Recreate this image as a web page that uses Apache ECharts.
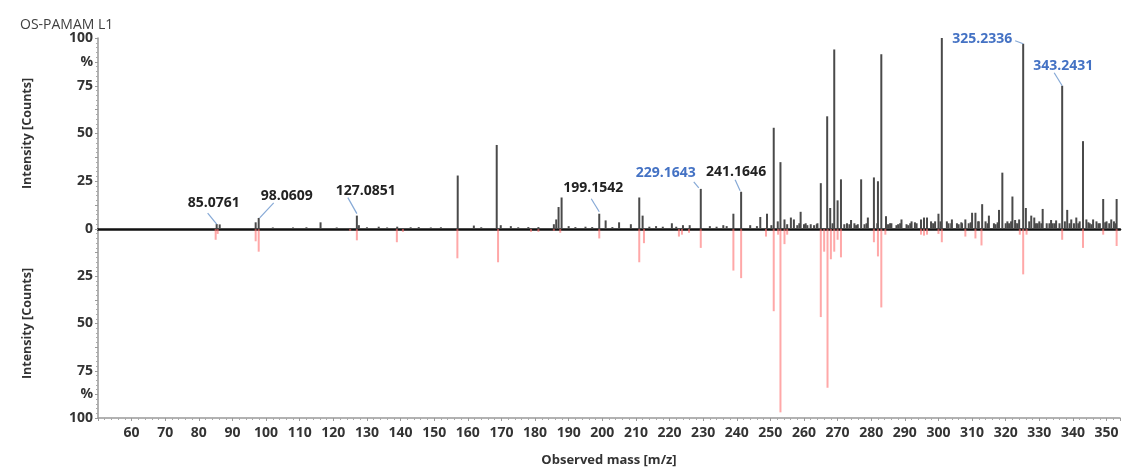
<!DOCTYPE html>
<html>
<head>
<meta charset="utf-8">
<script src="https://cdn.jsdelivr.net/npm/echarts@6/dist/echarts.min.js"></script>
<style>html,body{margin:0;padding:0;background:#fff;}#c{width:1124px;height:468px;}</style>
</head>
<body>
<div id="c"></div>
<script>
// ---- data ----
var sampleMz = [85.3,86.2,96.9,97.8,102,108,112,116.2,121,127.0,127.6,130,133.5,136,139,143,145.4,149,152,157.0,161.8,164,168.6,169.8,172.8,175,178,181,185.6,186.3,187.0,187.9,190,192,195,197,199.1,201.0,203,205.0,208.5,211.0,212.0,214,216,218,220.7,222,224,226,229.3,232,234,236,237,239.0,241.3,244,246,247.0,249.0,251.0,252.2,253.0,254.2,255,256.1,257.0,258,259.0,260,261,262,263,264,265.0,266.9,267.8,268.5,269.0,270.0,271.0,272.8,273.5,274.0,275.5,276,277.0,278,279.0,280.8,282.0,283.0,284.4,285,286.0,287.5,288,289.0,290.5,291,292.0,293.5,294.8,295.7,296.6,297.8,298.5,299.0,300.0,301.0,302.5,303,304.0,305.5,306,307,308.0,309,310.0,311.0,312,313.0,314,315.0,316.5,317,318.0,319.0,320.5,321,322.0,322.8,323.5,324,325.2,326.0,327.6,328.5,329.5,330,331.0,332.2,333.5,334,335.0,336.8,338.3,339.5,340.3,341.0,342,343.0,344.0,345,345.5,346.0,347.0,348,349.0,350,350.8,351.4,352.2,353.0,
  250.3,258.6,260.5,263.8,272,275,278.6,281.8,285.6,288.6,291.6,293,298,300.6,303.8,306.8,309.6,311.8,314.6,317.6,320,321.6,323,327,329,330.6,333,334.6,336,337.6,339,341.6,344.6,347.6,349.6,352.8];
var sampleInt = [2.6,2.4,3.5,5.8,0.8,0.8,0.9,3.5,0.8,7,2,0.9,1.2,0.8,1.2,0.9,1,0.8,0.9,28,1.8,0.9,44,2,1.5,0.9,1,1,2.5,5,11.5,16.5,1.5,1,1.2,1,8,4.5,1,3.5,2.5,16.5,7,1.2,1.5,1.2,3,1.2,2,2,21,1.5,1.2,2,1.5,8,19.5,2,1.5,6.3,8,53,4,35,5,2.5,6,5,2,9,2.5,2,2.5,2,3,24,59,11,3,94,15,26,3,2.5,4.7,2,2.5,26,2.5,6,27,25,91.5,6.7,2.5,3,2,2.5,5,2.5,2,4,3,5,6,6,4,3,4,8,100,4,3,5,3,2.5,3,5,3,8.5,8.5,4,13,4,7,3,2.5,10,29.5,4,3,17,4.7,3,5,97,11,7,6,3,4,10.5,3,4.7,3,4.5,75,10,5,3,6,4,46,5,3,2.5,5,4,3,15.7,4,3,5,4,15.7,
  2,3,3,2.5,2.5,3,3,3,3,3,3,3.5,3,4,3,3.5,3.5,4,3,3.5,3,4,3,4,3,3,3,3,3,4,3,3,3.5,3,3.5,3];
var refMz = [85.0,85.6,96.9,97.8,125,127,138.9,140.7,156.9,169,178.8,181,185.6,187.5,199.1,211.0,212.4,222.8,223.7,225.8,229.3,239.0,241.3,248.7,251.0,252.3,253.0,254.2,255,265.0,266.0,267.0,268.0,269.0,270.0,271.0,280.8,282.0,283.0,284.2,294.8,295.7,296.6,300.0,301.0,308.0,311.0,312.8,324.2,325.2,326.2,336.8,343.0,349.0,353.0];
var refInt = [5.7,2.6,6.5,12,1,6,7,1.5,15.5,17.6,1.5,1.5,1,2,5,17.6,7.5,4,3,2,10,22,26,4,43.5,3,97,8,3,46.6,12,84,16,12,5.7,15,7,14.5,41.5,3,3,3.5,3,2.6,7,4,5,8.7,3,24,3,5.7,10,3,9];
var annMz = [85.3,97.8,127.0,199.1,229.3,241.3,325.2,336.8];
var annInt = [2.6,5.8,7,8,21,19.5,97,75];
var annText = ['85.0761','98.0609','127.0851','199.1542','229.1643','241.1646','325.2336','343.2431'];
var annBlue = [false,false,false,false,true,false,true,true];
var xTicks = [60,70,80,90,100,110,120,130,140,150,160,170,180,190,200,210,220,230,240,250,260,270,280,290,300,310,320,330,340,350];
var yTicks = [0,25,50,75,100];
var titleText = 'OS-PAMAM L1';
var yName = 'Intensity [Counts]';
var xName = 'Observed mass [m/z]';

// ---- layout/style (not data) ----
var annOffset = [ // [labelDx, labelDy, lineX1, lineY1, lineX2, lineY2]
  [-3,-21,-9,-11,0,0],
  [28,-22,15,-15,1,0],
  [9,-25,-9,-18,0,-2],
  [-6,-26,-8,-15,0,-2],
  [-35,-16,-7,-7,-2,-1],
  [-5,-20,-6,-12,-1,-1],
  [-41,-5,-8,-3,0,0],
  [1,-20,-8,-13,0,0]
];
var FONT = 'Open Sans';

function pairs(a, b) { return a.map(function (v, i) { return [v, b[i]]; }); }
var annData = annMz.map(function (v, i) { return [v, annInt[i], i]; });

function yLabel(hideZero) {
  return function (v) {
    if (v === 87.5) return '%';
    if (hideZero && v === 0) return '';
    return yTicks.indexOf(v) >= 0 ? String(v) : '';
  };
}

var chart = echarts.init(document.getElementById('c'), null, {renderer: 'canvas'});
var labelStyle = {color: '#333', fontWeight: 'bold', fontSize: 14, fontFamily: FONT};
var nameStyle = {color: '#333', fontWeight: 'bold', fontSize: 12.5, fontFamily: FONT};

chart.setOption({
  animation: false,
  backgroundColor: '#fff',
  title: {text: titleText, left: 15, top: 13, textStyle: {fontSize: 14, fontWeight: 'normal', color: '#404040', fontFamily: FONT}},
  grid: [
    {left: 98, right: 4, top: 38, height: 191},
    {left: 98, right: 4, top: 229, height: 193}
  ],
  xAxis: [
    {type: 'value', gridIndex: 0, min: 50, max: 354, interval: 10,
     axisLine: {show: true, lineStyle: {color: '#111', width: 2.5}},
     axisTick: {show: false}, axisLabel: {show: false}, splitLine: {show: false}},
    {type: 'value', gridIndex: 1, min: 50, max: 354, interval: 10, position: 'bottom',
     name: xName, nameLocation: 'middle', nameGap: 36, nameTextStyle: Object.assign({}, nameStyle, {fontSize: 13}),
     axisLine: {show: true, onZero: false, lineStyle: {color: '#999', width: 1.5}},
     axisTick: {show: true, length: 3, lineStyle: {color: '#999'}},
     minorTick: {show: true, splitNumber: 5, length: 2, lineStyle: {color: '#aaa'}},
     axisLabel: Object.assign({}, labelStyle, {margin: 8, formatter: function (v) { return xTicks.indexOf(v) >= 0 ? String(v) : ''; }}),
     splitLine: {show: false}}
  ],
  yAxis: [
    {type: 'value', gridIndex: 0, min: 0, max: 100, interval: 12.5,
     name: yName, nameLocation: 'middle', nameGap: 64, nameRotate: 90, nameTextStyle: nameStyle,
     axisLine: {show: true, lineStyle: {color: '#999', width: 1.5}},
     axisTick: {show: true, length: 3, lineStyle: {color: '#999'}},
     minorTick: {show: true, splitNumber: 5, length: 2, lineStyle: {color: '#aaa'}},
     axisLabel: Object.assign({}, labelStyle, {margin: 5, formatter: yLabel(false)}),
     splitLine: {show: false}},
    {type: 'value', gridIndex: 1, min: 0, max: 100, interval: 12.5, inverse: true,
     name: yName, nameLocation: 'middle', nameGap: 64, nameRotate: 90, nameTextStyle: nameStyle,
     axisLine: {show: true, lineStyle: {color: '#999', width: 1.5}},
     axisTick: {show: true, length: 3, lineStyle: {color: '#999'}},
     minorTick: {show: true, splitNumber: 5, length: 2, lineStyle: {color: '#aaa'}},
     axisLabel: Object.assign({}, labelStyle, {margin: 5, formatter: yLabel(true)}),
     splitLine: {show: false}}
  ],
  series: [
    {type: 'bar', xAxisIndex: 1, yAxisIndex: 1, data: pairs(refMz, refInt), barWidth: 2,
     itemStyle: {color: 'rgba(255,110,110,0.6)'}, z: 1},
    {type: 'bar', xAxisIndex: 0, yAxisIndex: 0, data: pairs(sampleMz, sampleInt), barWidth: 2,
     itemStyle: {color: '#4a4a4a'}, z: 3},
    {type: 'custom', xAxisIndex: 0, yAxisIndex: 0, data: annData, clip: false, z: 5,
     renderItem: function (params, api) {
       var i = api.value(2);
       var p = api.coord([api.value(0), api.value(1)]);
       var o = annOffset[i];
       var col = annBlue[i] ? '#4472c4' : '#222';
       return {type: 'group', children: [
         {type: 'line', shape: {x1: p[0] + o[2], y1: p[1] + o[3], x2: p[0] + o[4], y2: p[1] + o[5]},
          style: {stroke: '#86a9d6', lineWidth: 1.2}},
         {type: 'text', x: p[0] + o[0], y: p[1] + o[1],
          style: {text: annText[i], fill: col, font: 'bold 14px "' + FONT + '"', align: 'center', verticalAlign: 'middle'}}
       ]};
     }}
  ]
});
</script>
</body>
</html>
